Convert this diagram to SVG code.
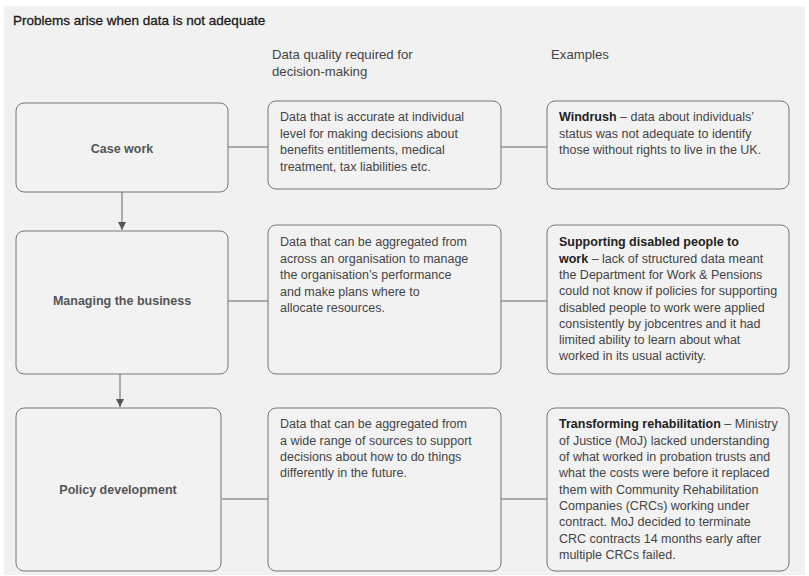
<svg xmlns="http://www.w3.org/2000/svg" width="809" height="576" viewBox="0 0 809 576">
<style>
text{font-family:"Liberation Sans",Arial,sans-serif;fill:#444;font-size:12.5px}
.title{fill:#1a1a1a;font-size:13.5px;stroke:#1a1a1a;stroke-width:0.3}
.hdr{fill:#444;font-size:13.2px}
.lbl{font-weight:bold;fill:#555;font-size:12.5px;text-anchor:middle}
.box{fill:#f2f2f2;stroke:#777;stroke-width:1}
.b{font-weight:bold;fill:#222}
.conn{stroke:#666;stroke-width:1;fill:none}
</style>
<defs>
<marker id="arr" viewBox="0 0 10 10" refX="10" refY="5" markerWidth="8" markerHeight="8" markerUnits="userSpaceOnUse" orient="auto">
<path d="M0,0 L10,5 L0,10 z" fill="#555"/>
</marker>
</defs>
<rect x="0" y="0" width="809" height="576" fill="#fff"/>
<rect x="4" y="6" width="801" height="569" fill="#f1f1f1"/>
<text class="title" x="13" y="25">Problems arise when data is not adequate</text>
<text class="hdr" x="272" y="59">Data quality required for</text>
<text class="hdr" x="272" y="76">decision-making</text>
<text class="hdr" x="551" y="59">Examples</text>

<g id="connectors">
<line class="conn" x1="228" y1="147" x2="268" y2="147"/>
<line class="conn" x1="501" y1="147" x2="547" y2="147"/>
<line class="conn" x1="228" y1="301" x2="268" y2="301"/>
<line class="conn" x1="501" y1="301" x2="547" y2="301"/>
<line class="conn" x1="222" y1="499" x2="268" y2="499"/>
<line class="conn" x1="501" y1="499" x2="547" y2="499"/>
<line class="conn" x1="122" y1="192" x2="122" y2="230" marker-end="url(#arr)"/>
<line class="conn" x1="120" y1="374" x2="120" y2="407" marker-end="url(#arr)"/>
</g>

<g id="case-work">
<rect class="box" x="16" y="103" width="212" height="89" rx="8"/>
<text class="lbl" x="122" y="153">Case work</text>
</g>
<g id="managing">
<rect class="box" x="16" y="231" width="212" height="143" rx="8"/>
<text class="lbl" x="122" y="305">Managing the business</text>
</g>
<g id="policy">
<rect class="box" x="16" y="408" width="205" height="163" rx="8"/>
<text class="lbl" x="118" y="494">Policy development</text>
</g>

<g id="dq1">
<rect class="box" x="268" y="101" width="233" height="88" rx="8"/>
<text x="280" y="121">Data that is accurate at individual</text>
<text x="280" y="138">level for making decisions about</text>
<text x="280" y="154">benefits entitlements, medical</text>
<text x="280" y="171">treatment, tax liabilities etc.</text>
</g>
<g id="dq2">
<rect class="box" x="268" y="225" width="233" height="149" rx="8"/>
<text x="280" y="246">Data that can be aggregated from</text>
<text x="280" y="263">across an organisation to manage</text>
<text x="280" y="279">the organisation’s performance</text>
<text x="280" y="296">and make plans where to</text>
<text x="280" y="312">allocate resources.</text>
</g>
<g id="dq3">
<rect class="box" x="268" y="408" width="233" height="163" rx="8"/>
<text x="280" y="428">Data that can be aggregated from</text>
<text x="280" y="445">a wide range of sources to support</text>
<text x="280" y="461">decisions about how to do things</text>
<text x="280" y="477">differently in the future.</text>
</g>

<g id="ex1">
<rect class="box" x="547" y="101" width="242" height="88" rx="8"/>
<text x="559" y="121"><tspan class="b">Windrush</tspan> – data about individuals’</text>
<text x="559" y="138">status was not adequate to identify</text>
<text x="559" y="154">those without rights to live in the UK.</text>
</g>
<g id="ex2">
<rect class="box" x="547" y="225" width="242" height="149" rx="8"/>
<text x="559" y="246" class="b">Supporting disabled people to</text>
<text x="559" y="263"><tspan class="b">work</tspan> – lack of structured data meant</text>
<text x="559" y="279">the Department for Work &amp; Pensions</text>
<text x="559" y="295">could not know if policies for supporting</text>
<text x="559" y="312">disabled people to work were applied</text>
<text x="559" y="328">consistently by jobcentres and it had</text>
<text x="559" y="344">limited ability to learn about what</text>
<text x="559" y="360">worked in its usual activity.</text>
</g>
<g id="ex3">
<rect class="box" x="547" y="408" width="242" height="163" rx="8"/>
<text x="559" y="428"><tspan class="b">Transforming rehabilitation</tspan> – Ministry</text>
<text x="559" y="445">of Justice (MoJ) lacked understanding</text>
<text x="559" y="461">of what worked in probation trusts and</text>
<text x="559" y="477">what the costs were before it replaced</text>
<text x="559" y="494">them with Community Rehabilitation</text>
<text x="559" y="510">Companies (CRCs) working under</text>
<text x="559" y="526">contract. MoJ decided to terminate</text>
<text x="559" y="543">CRC contracts 14 months early after</text>
<text x="559" y="559">multiple CRCs failed.</text>
</g>
</svg>
